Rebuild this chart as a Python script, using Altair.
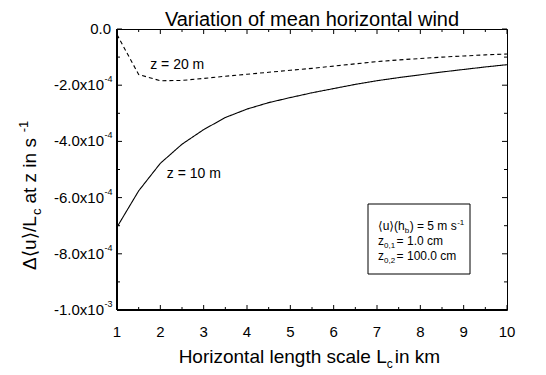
import altair as alt
import pandas as pd

# ---------------- data ----------------
L_km = [1.0, 1.5, 2.0, 2.5, 3.0, 3.5, 4.0, 4.5, 5.0, 5.5,
        6.0, 6.5, 7.0, 7.5, 8.0, 8.5, 9.0, 9.5, 10.0]
z10_vals = [-7.05e-4, -5.76e-4, -4.78e-4, -4.10e-4, -3.58e-4, -3.15e-4, -2.85e-4,
            -2.62e-4, -2.44e-4, -2.27e-4, -2.12e-4, -1.97e-4, -1.84e-4, -1.73e-4,
            -1.63e-4, -1.53e-4, -1.44e-4, -1.35e-4, -1.27e-4]
z20_vals = [-0.20e-4, -1.62e-4, -1.84e-4, -1.83e-4, -1.76e-4, -1.68e-4, -1.61e-4,
            -1.54e-4, -1.47e-4, -1.40e-4, -1.32e-4, -1.24e-4, -1.16e-4, -1.10e-4,
            -1.05e-4, -1.00e-4, -0.96e-4, -0.92e-4, -0.89e-4]
series_names = ["z = 10 m", "z = 20 m"]

x_major = [1, 2, 3, 4, 5, 6, 7, 8, 9, 10]
x_minor = [1.5, 2.5, 3.5, 4.5, 5.5, 6.5, 7.5, 8.5, 9.5]
y_major = [0.0, -2e-4, -4e-4, -6e-4, -8e-4, -1e-3]
y_minor = [-1e-4, -3e-4, -5e-4, -7e-4, -9e-4]
y_label_bases = ["-2.0x10", "-4.0x10", "-6.0x10", "-8.0x10", "-1.0x10"]
y_label_exps = ["-4", "-4", "-4", "-4", "-3"]
y_zero_label = "0.0"

title_text = "Variation of mean horizontal wind"

# ---------------- layout helpers ----------------
FONT = "Liberation Sans, Arial, Helvetica, DejaVu Sans, sans-serif"
W, H = 390, 281

AW = {' ': 278, '.': 278, ',': 278, '-': 333, '=': 584, '(': 333, ')': 333, '/': 278,
      'a': 556, 'b': 556, 'c': 500, 'd': 556, 'e': 556, 'g': 556, 'h': 556, 'i': 222,
      'k': 500, 'l': 222, 'm': 833, 'n': 556, 'o': 556, 'r': 333, 's': 500, 't': 278,
      'u': 556, 'w': 722, 'x': 500, 'z': 500, 'H': 722, 'L': 556, 'V': 667,
      'Δ': 668, '⟨': 390, '⟩': 390}


def tw(s, size):
    return sum(AW.get(ch, 556) for ch in s) * size / 1000.0


one = alt.Data(values=[{"k": 0}])


def txt(s, x, y, size, align="left", baseline="alphabetic", angle=0):
    kw = dict(text=s, fontSize=size, font=FONT, color="black", align=align,
              baseline=baseline)
    if angle:
        kw["angle"] = angle
    return alt.Chart(one).mark_text(**kw).encode(x=alt.value(x), y=alt.value(y))


def rich(parts, x0, y0, angle=0):
    """parts: list of (text, size, shift, gap); shift moves perpendicular to writing."""
    out = []
    pos = 0.0
    for s, size, shift, gap in parts:
        if angle == 270:
            out.append(txt(s, x0 + shift, y0 - pos, size, angle=270))
        else:
            out.append(txt(s, x0 + pos, y0 + shift, size))
        pos += tw(s, size) + gap
    return out


def rich_width(parts):
    return sum(tw(s, z) + g for s, z, _, g in parts)


xs = alt.Scale(domain=[1, 10], nice=False, zero=False)
ys = alt.Scale(domain=[-1e-3, 0], nice=False, zero=False)

layers = []

# ---------------- curves ----------------
df = pd.DataFrame({
    "L": L_km * 2,
    "v": z10_vals + z20_vals,
    "s": [series_names[0]] * len(L_km) + [series_names[1]] * len(L_km),
})
layers.append(
    alt.Chart(df).mark_line(color="black", strokeWidth=1.1).encode(
        x=alt.X("L:Q", scale=xs, axis=None),
        y=alt.Y("v:Q", scale=ys, axis=None),
        strokeDash=alt.StrokeDash("s:N", scale=alt.Scale(domain=series_names,
                                                         range=[[1, 0], [4, 3]]),
                                  legend=None),
        detail="s:N",
    )
)

# ---------------- ticks (inward, all four sides) ----------------
for vals, size in ((x_major, 5), (x_minor, 3)):
    d = pd.DataFrame({"v": vals})
    layers.append(alt.Chart(d).mark_rule(color="black", strokeWidth=1).encode(
        x=alt.X("v:Q", scale=xs, axis=None), y=alt.value(H), y2=alt.value(H - size)))
    layers.append(alt.Chart(d).mark_rule(color="black", strokeWidth=1).encode(
        x=alt.X("v:Q", scale=xs, axis=None), y=alt.value(0), y2=alt.value(size)))
for vals, size in ((y_major, 5), (y_minor, 3)):
    d = pd.DataFrame({"v": vals})
    layers.append(alt.Chart(d).mark_rule(color="black", strokeWidth=1).encode(
        y=alt.Y("v:Q", scale=ys, axis=None), x=alt.value(0), x2=alt.value(size)))
    layers.append(alt.Chart(d).mark_rule(color="black", strokeWidth=1).encode(
        y=alt.Y("v:Q", scale=ys, axis=None), x=alt.value(W), x2=alt.value(W - size)))

# thicker left / bottom axis lines
layers.append(alt.Chart(one).mark_rule(color="black", strokeWidth=2).encode(
    x=alt.value(0), y=alt.value(0), y2=alt.value(H)))
layers.append(alt.Chart(one).mark_rule(color="black", strokeWidth=2).encode(
    x=alt.value(0), x2=alt.value(W), y=alt.value(H)))

# ---------------- tick labels ----------------
layers.append(alt.Chart(pd.DataFrame({"v": x_major, "t": [str(v) for v in x_major]}))
              .mark_text(fontSize=15, font=FONT, color="black", baseline="middle")
              .encode(x=alt.X("v:Q", scale=xs, axis=None), y=alt.value(H + 22), text="t:N"))
ylab = pd.DataFrame({"v": y_major[1:], "b": y_label_bases, "e": y_label_exps})
layers.append(alt.Chart(ylab).mark_text(fontSize=15, font=FONT, color="black",
                                        align="right", baseline="middle")
              .encode(y=alt.Y("v:Q", scale=ys, axis=None), x=alt.value(-13), text="b:N"))
layers.append(alt.Chart(ylab).mark_text(fontSize=9, font=FONT, color="black",
                                        align="left", baseline="middle", dy=-6)
              .encode(y=alt.Y("v:Q", scale=ys, axis=None), x=alt.value(-12.5), text="e:N"))
layers.append(alt.Chart(pd.DataFrame({"v": [y_major[0]], "t": [y_zero_label]}))
              .mark_text(fontSize=15, font=FONT, color="black", align="right",
                         baseline="middle")
              .encode(y=alt.Y("v:Q", scale=ys, axis=None), x=alt.value(-6), text="t:N"))

# ---------------- curve labels ----------------
lab = pd.DataFrame({"L": [2.39, 2.15], "v": [-1.28e-4, -5.16e-4], "t": series_names[::-1]})
layers.append(alt.Chart(lab.iloc[[0]]).mark_text(fontSize=14, font=FONT, color="black",
                                                 align="center", baseline="middle")
              .encode(x=alt.X("L:Q", scale=xs, axis=None),
                      y=alt.Y("v:Q", scale=ys, axis=None), text="t:N"))
layers.append(alt.Chart(lab.iloc[[1]]).mark_text(fontSize=14, font=FONT, color="black",
                                                 align="left", baseline="middle")
              .encode(x=alt.X("L:Q", scale=xs, axis=None),
                      y=alt.Y("v:Q", scale=ys, axis=None), text="t:N"))

# ---------------- parameter box ----------------
layers.append(alt.Chart(one).mark_rect(fill="white", stroke="black", strokeWidth=1).encode(
    x=alt.value(251), x2=alt.value(353), y=alt.value(175), y2=alt.value(245)))
layers += rich([("⟨u⟩(h", 12, 0, 0), ("b", 8, 3, 0.5), (") = 5 m s", 12, 0, 0.5),
                ("-1", 8, -5, 0)], 261, 201)
layers += rich([("z", 12, 0, 0), ("0,1", 8, 3, 1.5), (" = 1.0 cm", 12, 0, 0)], 261, 216)
layers += rich([("z", 12, 0, 0), ("0,2", 8, 3, 1.5), (" = 100.0 cm", 12, 0, 0)], 261, 231)

# ---------------- titles ----------------
layers.append(txt(title_text, W / 2, -3, 20, align="center"))

xt = [("Horizontal length scale L", 19, 0, 0), ("c", 12, 5, 2), (" in km", 19, 0, 0)]
layers += rich(xt, W / 2 - rich_width(xt) / 2, 334)

yt = [("Δ⟨u⟩/L", 19, 0, 1), ("c", 13, 5, 5), (" at z in s", 19, 0, 0.5), ("-1", 13, -8, 0)]
layers += rich(yt, -81, 241, angle=270)

chart = alt.layer(*layers).properties(
    width=W, height=H,
    padding={"left": 109, "top": 21, "right": 30, "bottom": 61},
    autosize=alt.AutoSizeParams(type="none"),
).configure_view(stroke="black", strokeWidth=1)

chart.save("out.html", embed_options={"renderer": "svg", "actions": False})
